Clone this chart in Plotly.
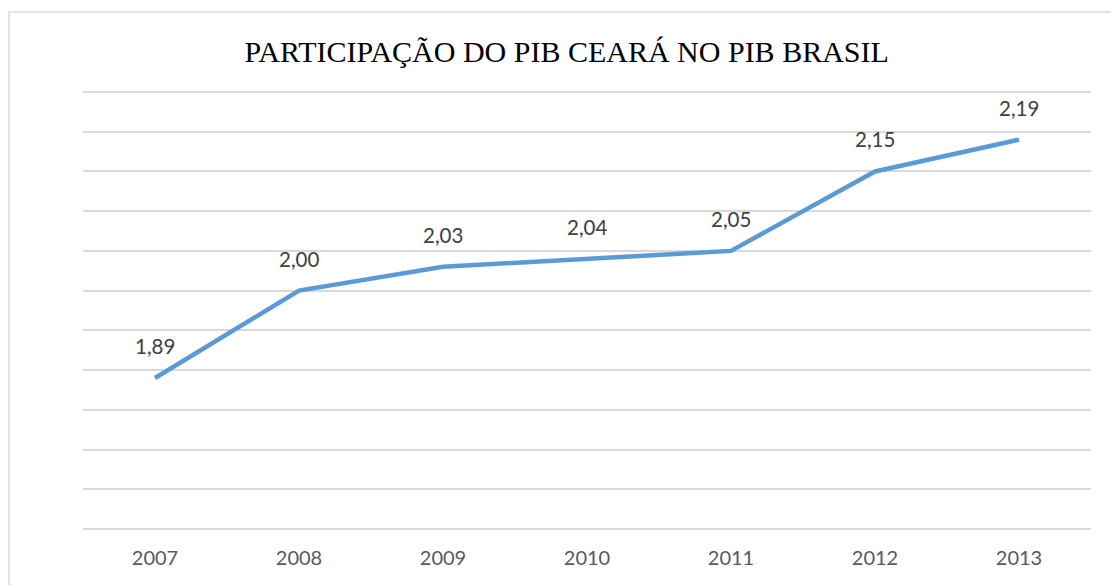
import plotly.graph_objects as go

years = ["2007", "2008", "2009", "2010", "2011", "2012", "2013"]
share = [1.89, 2.00, 2.03, 2.04, 2.05, 2.15, 2.19]
title_text = "PARTICIPAÇÃO DO PIB CEARÁ NO PIB BRASIL"

fig = go.Figure()
fig.add_trace(go.Scatter(
    x=years, y=share, mode="lines",
    line=dict(color="#5b9bd5", width=4.5),
    hoverinfo="skip", showlegend=False,
))

for i, v in enumerate(share):
    fig.add_annotation(
        x=i, y=v, xref="x", yref="y", text=f"{v:.2f}".replace(".", ","),
        showarrow=False, yshift=32,
        font=dict(family="Lato", size=20.5, color="#404040"),
    )

# plot area: y from 88 to 533 px (445 px) for range 1.695..2.255
fig.add_shape(
    type="rect", xref="paper", yref="paper",
    x0=-0.0734, x1=1.05, y0=-0.15, y1=(533 - 12) / 445,
    line=dict(color="#d9d9d9", width=1.5), fillcolor="rgba(0,0,0,0)",
    layer="below",
)

fig.update_layout(
    width=1111, height=585,
    margin=dict(l=83, r=20, t=88, b=52),
    paper_bgcolor="white", plot_bgcolor="white",
    title=dict(text=title_text, x=0.51, xanchor="center", y=0.912, yanchor="middle",
               font=dict(family="Liberation Serif", size=30, color="#000000")),
    xaxis=dict(type="category", showgrid=False, zeroline=False, showline=False,
               ticks="", tickfont=dict(family="Lato", size=20, color="#595959"),
               ticklabelstandoff=11,
               range=[-0.5, 6.5], fixedrange=True),
    yaxis=dict(range=[1.695, 2.255], dtick=0.05, tick0=1.70, showticklabels=False,
               showgrid=True, gridcolor="#d9d9d9", gridwidth=1.5, zeroline=False,
               showline=False, ticks="", fixedrange=True),
)

fig.write_html("out.html", config={"displayModeBar": False},
               post_script="document.body.style.margin='0';document.body.style.overflow='hidden';")
